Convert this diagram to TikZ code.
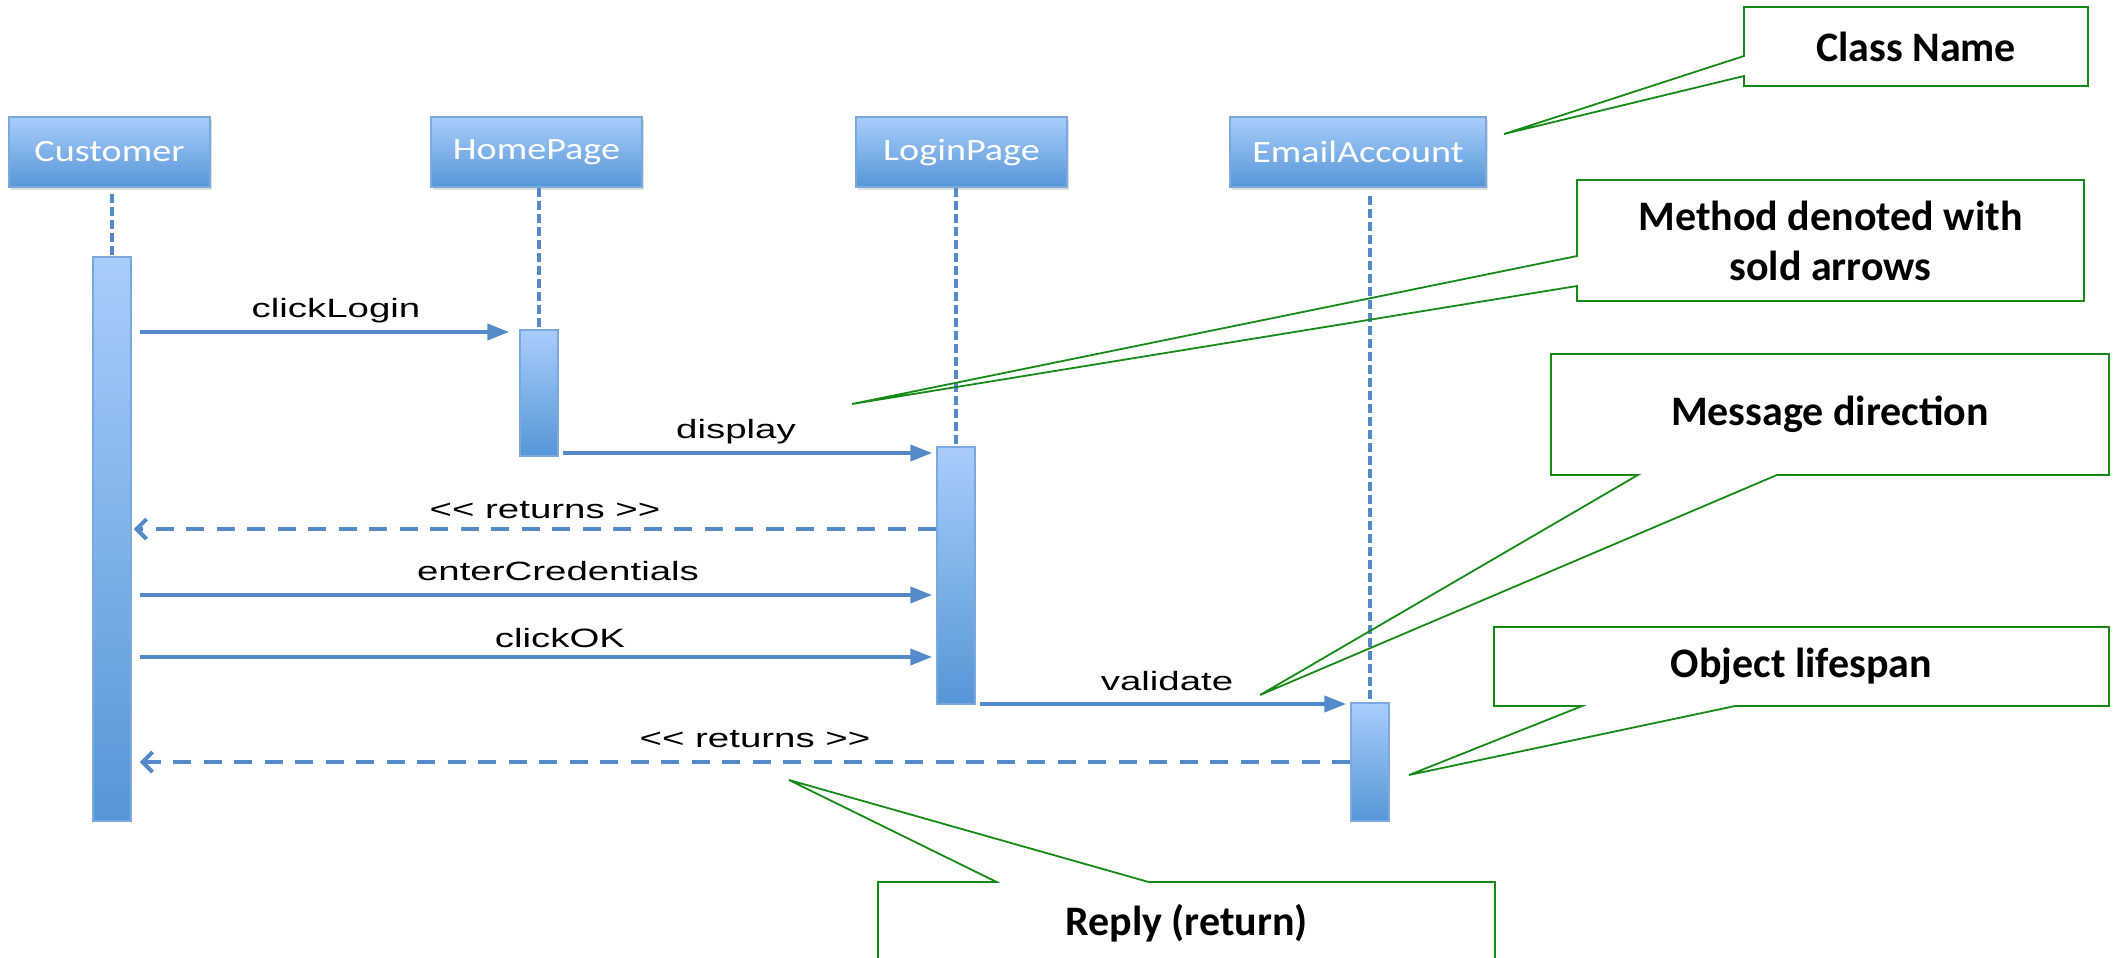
\documentclass[tikz,border=0pt]{standalone}
\usepackage{fontspec}
\usepackage{graphicx}
\setmainfont{Carlito}
\newfontfamily\arialfont{Liberation Sans}
\usetikzlibrary{arrows.meta,shapes.callouts,shadows}

\definecolor{umlblue}{RGB}{84,138,202}
\definecolor{umltop}{RGB}{168,205,251}
\definecolor{umlbot}{RGB}{86,150,215}
\definecolor{umledge}{RGB}{125,168,222}
\definecolor{notegreen}{RGB}{22,138,22}

% the sequence part is drawn wider than its fonts
\newcommand{\classname}[1]{\scalebox{1.23}[1]{#1}}
\newcommand{\msgname}[1]{\scalebox{1.45}[1]{#1}}

\tikzset{
  classbox/.style={rectangle, draw=umledge, line width=1.5pt, top color=umltop, bottom color=umlbot,
    text=white, minimum height=70pt, inner sep=0pt, font=\fontsize{31}{36}\selectfont,
    drop shadow={shadow xshift=2pt, shadow yshift=-3pt, opacity=0.25}},
  activebar/.style={rectangle, draw=umledge, line width=1.5pt, top color=umltop, bottom color=umlbot,
    minimum width=38pt, inner sep=0pt},
  lifeline/.style={draw=umlblue, line width=4.5pt, dash pattern=on 9.5pt off 3.5pt},
  call/.style={draw=umlblue, line width=4pt, -{Triangle[length=22pt,width=16pt]}, shorten <=4pt, shorten >=4pt},
  reply/.style={draw=umlblue, line width=4pt, dash pattern=on 18pt off 12.5pt,
    -{Straight Barb[length=10pt,width=20pt]}, shorten >=2pt},
  msglabel/.style={anchor=base, inner sep=0pt, font=\arialfont\fontsize{26.5}{30}\selectfont},
  note/.style={rectangle callout, draw=notegreen, line width=1.8pt, align=center, inner sep=0pt,
    font=\bfseries\fontsize{42}{50}\selectfont}
}

\begin{document}
\begin{tikzpicture}[x=1pt,y=-1pt]
  \useasboundingbox (0,0) rectangle (2120,958);

  % objects
  \node[classbox, minimum width=201pt] (customer) at (109.5,152) {\classname{Customer}};
  \node[classbox, minimum width=211pt] (home) at (536.5,152) {\classname{HomePage}};
  \node[classbox, minimum width=211pt] (login) at (961.5,152) {\classname{LoginPage}};
  \node[classbox, minimum width=256pt] (email) at (1358,152) {\classname{EmailAccount}};

  % activation bars
  \node[activebar, minimum height=564pt] (customerbar) at (112,539) {};
  \node[activebar, minimum height=126pt] (homebar) at (539,393) {};
  \node[activebar, minimum height=257pt] (loginbar) at (956,575.5) {};
  \node[activebar, minimum height=118pt] (emailbar) at (1370,762) {};

  % lifelines
  \draw[lifeline] ([yshift=-6pt]customerbar.north |- customer.south) -- (customerbar.north);
  \draw[lifeline] (homebar.north |- home.south) -- (homebar.north);
  \draw[lifeline] (loginbar.north |- login.south) -- (loginbar.north);
  \draw[lifeline] ([yshift=-8pt]emailbar.north |- email.south) -- (emailbar.north);

  % messages
  \draw[call, shorten <=8pt, shorten >=10pt] (customerbar.east |- 0,332) -- (homebar.west |- 0,332);
  \node[msglabel] (clicklogin) at (336,317) {\msgname{clickLogin}};
  \draw[call] (homebar.east |- 0,453) -- (loginbar.west |- 0,453);
  \node[msglabel] (display) at (736,438) {\msgname{display}};
  \draw[reply] (loginbar.west |- 0,529) -- (customerbar.east |- 0,529);
  \node[msglabel] (returns1) at (545,518) {\msgname{<{}< returns >{}>}};
  \draw[call, shorten <=8pt] (customerbar.east |- 0,595) -- (loginbar.west |- 0,595);
  \node[msglabel] (credentials) at (558,580) {\msgname{enterCredentials}};
  \draw[call, shorten <=8pt] (customerbar.east |- 0,657) -- (loginbar.west |- 0,657);
  \node[msglabel] (clickok) at (560,647) {\msgname{clickOK}};
  \draw[call] (loginbar.east |- 0,704) -- (emailbar.west |- 0,704);
  \node[msglabel] (validate) at (1167,690) {\msgname{validate}};
  \draw[reply, shorten >=8pt] (emailbar.west |- 0,762) -- (customerbar.east |- 0,762);
  \node[msglabel] (returns2) at (755,747) {\msgname{<{}< returns >{}>}};

  % notes
  \node[note, minimum width=344pt, minimum height=79pt, callout pointer width=20pt,
    callout absolute pointer={(1504,134)}] (classnote) at (1916,46.5) {Class Name};
  \node[note, minimum width=507pt, minimum height=121pt, callout pointer width=30pt,
    callout absolute pointer={(852,404)}] (methodnote) at (1830.5,240.5) {Method denoted with\\sold arrows};
  \node[note, minimum width=558pt, minimum height=121pt, callout pointer width=139pt,
    callout absolute pointer={(1260,695)}] (directionnote) at (1830,414.5) {Message direction};
  \node[note, minimum width=615pt, minimum height=79pt, callout pointer width=153pt,
    callout absolute pointer={(1409,775)}] (lifenote) at (1801.5,666.5) {Object lifespan};
  \node[note, minimum width=617pt, minimum height=82pt, callout pointer width=152pt,
    callout absolute pointer={(789,780)}] (replynote) at (1186.5,923) {Reply (return)};
\end{tikzpicture}
\end{document}
